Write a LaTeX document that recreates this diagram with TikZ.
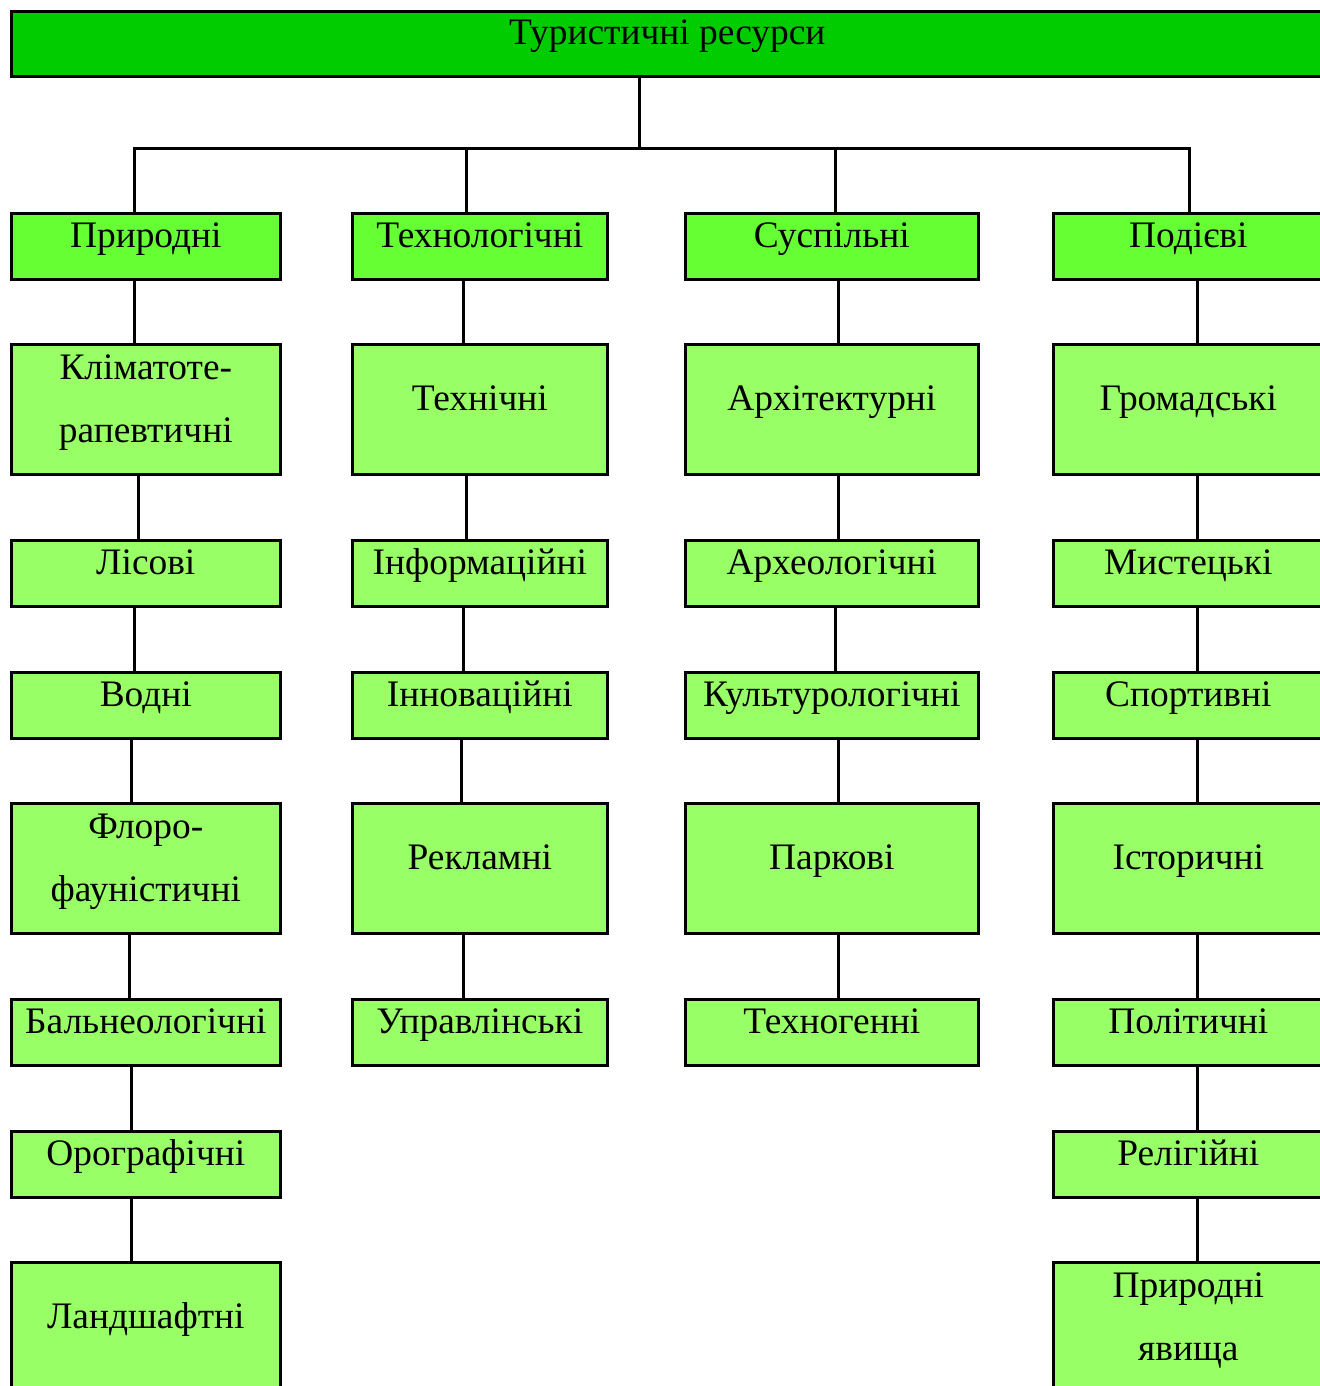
\documentclass[tikz,border=0pt]{standalone}
\usepackage{fontspec}
\setmainfont{Liberation Serif}
\definecolor{topg}{HTML}{00CC00}
\definecolor{midg}{HTML}{66FF33}
\definecolor{lowg}{HTML}{99FF66}
\begin{document}
\begin{tikzpicture}[x=0.5pt,y=-0.5pt,
  box/.style={draw=black,line width=1.3pt,rectangle,inner sep=0pt,anchor=north west},
  sbox/.style={box,minimum height=33pt},
  tbox/.style={box,minimum height=65pt},
  wa/.style={minimum width=134.5pt},
  wb/.style={minimum width=127.5pt},
  wc/.style={minimum width=146.5pt},
  wd/.style={minimum width=135pt},
  txt/.style={align=center,inner sep=0pt,anchor=base,font=\fontsize{18.7}{31.5}\selectfont},
  conn/.style={draw=black,line width=1.3pt}]
\useasboundingbox[fill=white] (0,0) rectangle (1320,1386);
% top
\node[box,fill=topg,minimum width=656pt,minimum height=32.5pt] (top) at (10,10) {};
\node[txt] (toptxt) at ([yshift=-17.5pt]top.north) {Туристичні ресурси};
% column 1
\node[sbox,wa,fill=midg] (a1) at (10,212) {};
\node[tbox,wa,fill=lowg] (a2) at (10,343) {};
\node[sbox,wa,fill=lowg] (a3) at (10,539) {};
\node[sbox,wa,fill=lowg] (a4) at (10,671) {};
\node[tbox,wa,fill=lowg] (a5) at (10,802) {};
\node[sbox,wa,fill=lowg] (a6) at (10,998) {};
\node[sbox,wa,fill=lowg] (a7) at (10,1130) {};
\node[tbox,wa,fill=lowg] (a8) at (10,1261) {};
% column 2
\node[sbox,wb,fill=midg] (b1) at (351,212) {};
\node[tbox,wb,fill=lowg] (b2) at (351,343) {};
\node[sbox,wb,fill=lowg] (b3) at (351,539) {};
\node[sbox,wb,fill=lowg] (b4) at (351,671) {};
\node[tbox,wb,fill=lowg] (b5) at (351,802) {};
\node[sbox,wb,fill=lowg] (b6) at (351,998) {};
% column 3
\node[sbox,wc,fill=midg] (c1) at (684,212) {};
\node[tbox,wc,fill=lowg] (c2) at (684,343) {};
\node[sbox,wc,fill=lowg] (c3) at (684,539) {};
\node[sbox,wc,fill=lowg] (c4) at (684,671) {};
\node[tbox,wc,fill=lowg] (c5) at (684,802) {};
\node[sbox,wc,fill=lowg] (c6) at (684,998) {};
% column 4
\node[sbox,wd,fill=midg] (d1) at (1052,212) {};
\node[tbox,wd,fill=lowg] (d2) at (1052,343) {};
\node[sbox,wd,fill=lowg] (d3) at (1052,539) {};
\node[sbox,wd,fill=lowg] (d4) at (1052,671) {};
\node[tbox,wd,fill=lowg] (d5) at (1052,802) {};
\node[sbox,wd,fill=lowg] (d6) at (1052,998) {};
\node[sbox,wd,fill=lowg] (d7) at (1052,1130) {};
\node[tbox,wd,fill=lowg] (d8) at (1052,1261) {};
% texts (short boxes: baseline 17.5pt below top; tall single: 33.5pt; tall double: last line 49.5pt)
\node[txt] (ta1) at ([yshift=-17.5pt]a1.north) {Природні};
\node[txt] (ta2) at ([yshift=-49.5pt]a2.north) {Кліматоте-\\рапевтичні};
\node[txt] (ta3) at ([yshift=-17.5pt]a3.north) {Лісові};
\node[txt] (ta4) at ([yshift=-17.5pt]a4.north) {Водні};
\node[txt] (ta5) at ([yshift=-49.5pt]a5.north) {Флоро-\\фауністичні};
\node[txt] (ta6) at ([yshift=-17.5pt]a6.north) {Бальнеологічні};
\node[txt] (ta7) at ([yshift=-17.5pt]a7.north) {Орографічні};
\node[txt] (ta8) at ([yshift=-33.5pt]a8.north) {Ландшафтні};
\node[txt] (tb1) at ([yshift=-17.5pt]b1.north) {Технологічні};
\node[txt] (tb2) at ([yshift=-33.5pt]b2.north) {Технічні};
\node[txt] (tb3) at ([yshift=-17.5pt]b3.north) {Інформаційні};
\node[txt] (tb4) at ([yshift=-17.5pt]b4.north) {Інноваційні};
\node[txt] (tb5) at ([yshift=-33.5pt]b5.north) {Рекламні};
\node[txt] (tb6) at ([yshift=-17.5pt]b6.north) {Управлінські};
\node[txt] (tc1) at ([yshift=-17.5pt]c1.north) {Суспільні};
\node[txt] (tc2) at ([yshift=-33.5pt]c2.north) {Архітектурні};
\node[txt] (tc3) at ([yshift=-17.5pt]c3.north) {Археологічні};
\node[txt] (tc4) at ([yshift=-17.5pt]c4.north) {Культурологічні};
\node[txt] (tc5) at ([yshift=-33.5pt]c5.north) {Паркові};
\node[txt] (tc6) at ([yshift=-17.5pt]c6.north) {Техногенні};
\node[txt] (td1) at ([yshift=-17.5pt]d1.north) {Подієві};
\node[txt] (td2) at ([yshift=-33.5pt]d2.north) {Громадські};
\node[txt] (td3) at ([yshift=-17.5pt]d3.north) {Мистецькі};
\node[txt] (td4) at ([yshift=-17.5pt]d4.north) {Спортивні};
\node[txt] (td5) at ([yshift=-33.5pt]d5.north) {Історичні};
\node[txt] (td6) at ([yshift=-17.5pt]d6.north) {Політичні};
\node[txt] (td7) at ([yshift=-17.5pt]d7.north) {Релігійні};
\node[txt] (td8) at ([yshift=-49.5pt]d8.north) {Природні\\явища};
% tree from top
\coordinate (hub) at ([xshift=-14pt,yshift=-35.5pt]top.south);
\draw[conn] ([xshift=-14pt]top.south) -- (hub);
\draw[conn] ([xshift=-5.75pt]a1.north) |- (hub);
\draw[conn] ([xshift=-6.75pt]b1.north) |- (hub);
\draw[conn] ([xshift=1.75pt]c1.north) |- (hub);
\draw[conn] ([xshift=0.5pt]d1.north) |- (hub);
% column 1 connectors
\draw[conn] ([xshift=-5.75pt]a1.south) -- ([xshift=-5.75pt]a2.north);
\draw[conn] ([xshift=-3.75pt]a2.south) -- ([xshift=-3.75pt]a3.north);
\draw[conn] ([xshift=-5.75pt]a3.south) -- ([xshift=-5.75pt]a4.north);
\draw[conn] ([xshift=-7.25pt]a4.south) -- ([xshift=-7.25pt]a5.north);
\draw[conn] ([xshift=-8.25pt]a5.south) -- ([xshift=-8.25pt]a6.north);
\draw[conn] ([xshift=-7.25pt]a6.south) -- ([xshift=-7.25pt]a7.north);
\draw[conn] ([xshift=-7.25pt]a7.south) -- ([xshift=-7.25pt]a8.north);
% column 2 connectors
\draw[conn] ([xshift=-8.25pt]b1.south) -- ([xshift=-8.25pt]b2.north);
\draw[conn] ([xshift=-6.75pt]b2.south) -- ([xshift=-6.75pt]b3.north);
\draw[conn] ([xshift=-8.25pt]b3.south) -- ([xshift=-8.25pt]b4.north);
\draw[conn] ([xshift=-9.25pt]b4.south) -- ([xshift=-9.25pt]b5.north);
\draw[conn] ([xshift=-8.25pt]b5.south) -- ([xshift=-8.25pt]b6.north);
% column 3 connectors
\draw[conn] ([xshift=3.25pt]c1.south) -- ([xshift=3.25pt]c2.north);
\draw[conn] ([xshift=3.25pt]c2.south) -- ([xshift=3.25pt]c3.north);
\draw[conn] ([xshift=1.75pt]c3.south) -- ([xshift=1.75pt]c4.north);
\draw[conn] ([xshift=3.25pt]c4.south) -- ([xshift=3.25pt]c5.north);
\draw[conn] ([xshift=3.25pt]c5.south) -- ([xshift=3.25pt]c6.north);
% column 4 connectors
\draw[conn] ([xshift=4.5pt]d1.south) -- ([xshift=4.5pt]d2.north);
\draw[conn] ([xshift=4.5pt]d2.south) -- ([xshift=4.5pt]d3.north);
\draw[conn] ([xshift=4.5pt]d3.south) -- ([xshift=4.5pt]d4.north);
\draw[conn] ([xshift=4.5pt]d4.south) -- ([xshift=4.5pt]d5.north);
\draw[conn] ([xshift=4.5pt]d5.south) -- ([xshift=4.5pt]d6.north);
\draw[conn] ([xshift=4.5pt]d6.south) -- ([xshift=4.5pt]d7.north);
\draw[conn] ([xshift=4.5pt]d7.south) -- ([xshift=4.5pt]d8.north);
\end{tikzpicture}
\end{document}
